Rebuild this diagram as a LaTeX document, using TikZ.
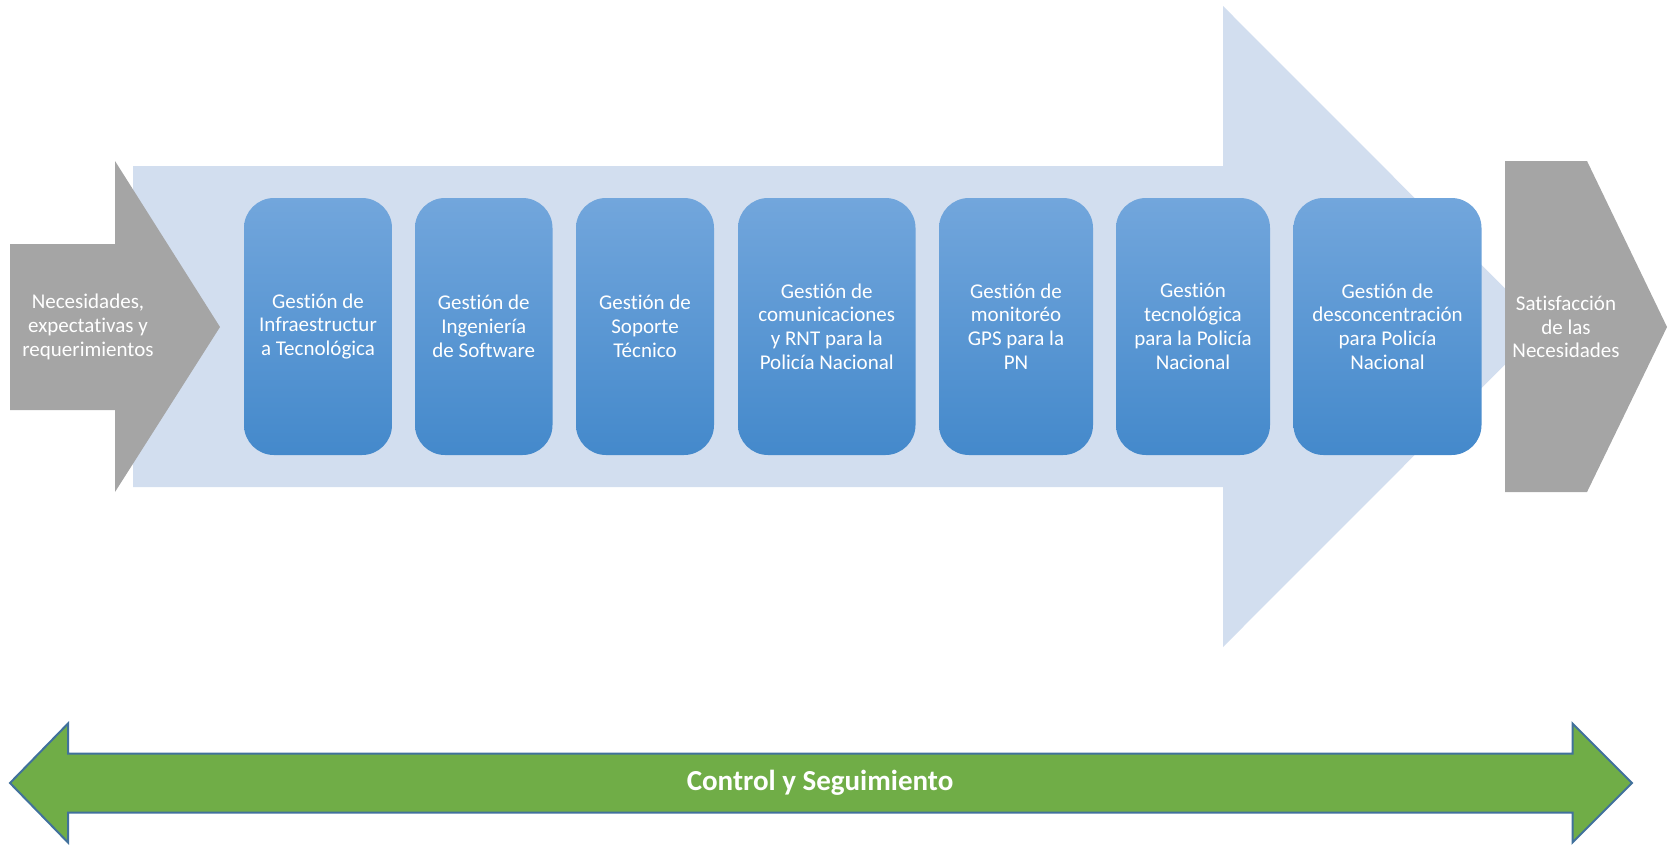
\documentclass[tikz,border=0pt]{standalone}
\usepackage{fontspec}
\setmainfont{Carlito}[RawFeature={-liga;-clig;-calt;-dlig}]

\definecolor{flowbg}{RGB}{210,222,239}
\definecolor{needgray}{RGB}{165,165,165}
\definecolor{boxtop}{RGB}{114,166,220}
\definecolor{boxmid}{RGB}{88,154,218}
\definecolor{boxbot}{RGB}{68,137,203}
\definecolor{ctrlgreen}{RGB}{112,173,71}
\definecolor{ctrlline}{RGB}{65,113,156}

\begin{document}
\begin{tikzpicture}[x=1pt, y=-1pt,
  txt/.style={text=white, align=center, inner sep=0pt, font=\fontsize{21}{23.8}\selectfont},
  gestion/.style={txt, rounded corners=30pt, top color=boxtop, middle color=boxmid,
    bottom color=boxbot, minimum height=257pt}]
  \useasboundingbox (0,0) rectangle (1669,844);

  % the big flow arrow behind the boxes:
  \fill[flowbg] (133,166) -- (1223,166) -- (1223,6) -- (1543,326.5)
    -- (1223,647) -- (1223,487) -- (133,487) -- cycle;

  % needs in, satisfaction out
  \fill[needgray] (10,244) -- (115,244) -- (115,161) -- (220,327)
    -- (115,492) -- (115,410) -- (10,410) -- cycle;
  \fill[needgray] (1505,161) -- (1587,161) -- (1667,327) -- (1587,492) -- (1505,492) -- cycle;
  \node[txt] (In) at (88,327) {Necesidades,\\expectativas y\\requerimientos};
  \node[txt] (Out) at (1566,327) {Satisfacción\\de las\\Necesidades};

  % the seven processes:
  \foreach \xl/\xr/\gtext [count=\i] in {
      244/392/{Gestión de\\Infraestructur\\a Tecnológica},
      415/552.5/{Gestión de\\Ingeniería\\de Software},
      576/714/{Gestión de\\Soporte\\Técnico},
      738/915.5/{Gestión de\\comunicaciones\\y RNT para la\\Policía Nacional},
      939/1093/{Gestión de\\monitoréo\\GPS para la\\PN},
      1116/1270/{Gestión\\tecnológica\\para la Policía\\Nacional},
      1293.5/1481.5/{Gestión de\\desconcentración\\para Policía\\Nacional}}{
    % Compute centre and width:
    \pgfmathsetmacro\xc{(\xl+\xr)/2}
    \pgfmathsetmacro\boxw{\xr-\xl}
    \node[gestion, minimum width=\boxw pt] (G-\i) at (\xc,326.5) {\gtext};
  }

  % control along the whole chain
  \draw[ctrlline, line width=2pt, fill=ctrlgreen] (10,783) -- (68,723.5) -- (68,753.5)
    -- (1572.5,753.5) -- (1572.5,723.5) -- (1632,783) -- (1572.5,842.5)
    -- (1572.5,812.5) -- (68,812.5) -- (68,842.5) -- cycle;
  \node[txt, font=\fontsize{29}{33}\selectfont\bfseries] (Ctrl) at (820,783) {Control y Seguimiento};
\end{tikzpicture}
\end{document}
